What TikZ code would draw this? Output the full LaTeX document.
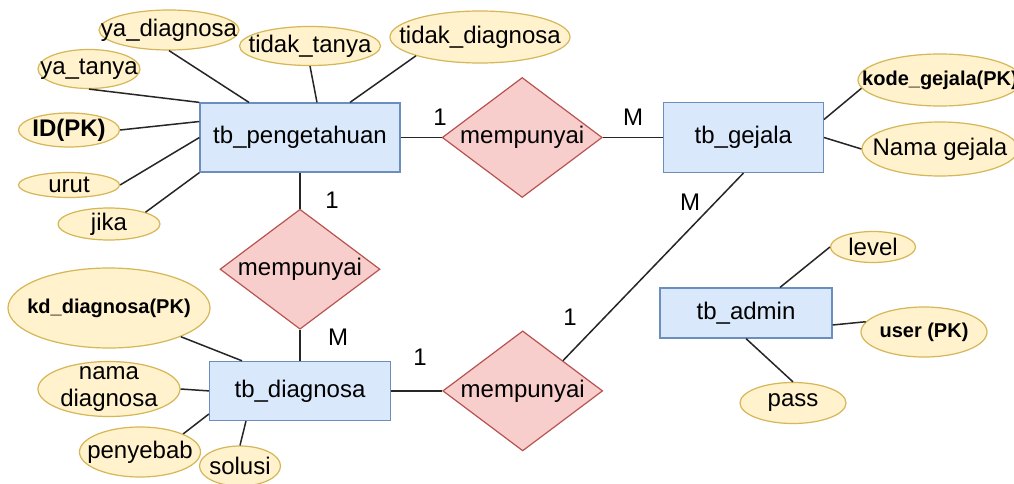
\documentclass[tikz,border=0pt]{standalone}
\usepackage{fontspec}
\setmainfont{Liberation Sans}
\usepackage{tikz}
\usetikzlibrary{positioning,shapes.geometric}
\definecolor{entfill}{HTML}{DAE8FC}
\definecolor{entline}{HTML}{6C8EBF}
\definecolor{attrfill}{HTML}{FFF2CC}
\definecolor{attrline}{HTML}{D6B656}
\definecolor{relfill}{HTML}{F8CECC}
\definecolor{relline}{HTML}{B85450}
\newcommand{\txt}{\fontsize{24}{27}\selectfont}
\newcommand{\pksmall}{\fontsize{20}{23}\selectfont\bfseries}
\tikzset{
  ent/.style={draw=entline,fill=entfill,line width=1.2pt,minimum height=59pt,inner sep=0pt,font=\txt},
  rel/.style={diamond,draw=relline,fill=relfill,line width=1.2pt,minimum width=160pt,minimum height=120pt,inner sep=0pt,label={[font=\txt]center:mempunyai}},
  attr/.style={ellipse,draw=attrline,fill=attrfill,line width=1.2pt,inner sep=0pt,label={[font=\txt,align=center,inner sep=0pt]center:{#1}}},
  conn/.style={line width=1.5pt,black!85},
  card/.style={font=\txt,inner sep=0pt},
}
\begin{document}
\begin{tikzpicture}[x=1pt,y=-1pt]
  \path[use as bounding box,fill=white] (0,0) rectangle (1014,484);
  \node[ent,minimum width=200pt,minimum height=69pt] (peng) at (300,137.5) {tb\_pengetahuan};
  \node[rel,right=41pt of peng] (rel1) {};
  \node[ent,minimum width=160pt,minimum height=70pt,right=60pt of rel1] (gej) {tb\_gejala};
  \node[rel,below=36pt of peng] (rel2) {};
  \node[ent,minimum width=181pt,below=31pt of rel2] (diag) {tb\_diagnosa};
  \node[rel,right=51pt of diag] (rel3) {};
  \node[ent,minimum width=172pt,minimum height=50pt] (adm) at (746,313) {tb\_admin};

  \node[attr={ya\_diagnosa},minimum width=140pt,minimum height=40pt] (yadiag) at (169,30) {};
  \node[attr={tidak\_tanya},minimum width=141pt,minimum height=39pt] (ttanya) at (310,46) {};
  \node[attr={tidak\_diagnosa},minimum width=180pt,minimum height=52pt] (tdiag) at (480,37) {};
  \node[attr={ya\_tanya},minimum width=102pt,minimum height=39pt] (yatanya) at (89,69) {};
  \node[attr={\textbf{ID(PK)}},minimum width=101pt,minimum height=34pt] (id) at (69,130) {};
  \node[attr={urut},minimum width=101pt,minimum height=25pt] (urut) at (69,185) {};
  \node[attr={jika},minimum width=102pt,minimum height=32pt] (jika) at (109,224) {};
  \node[attr={\pksmall kode\_gejala(PK)},minimum width=164pt,minimum height=52pt] (kode) at (940,80) {};
  \node[attr={Nama gejala},minimum width=156pt,minimum height=54pt] (namag) at (940,149) {};
  \node[attr={level},minimum width=85pt,minimum height=31pt] (level) at (873,247) {};
  \node[attr={\pksmall user (PK)},minimum width=126pt,minimum height=50pt] (user) at (924,332) {};
  \node[attr={pass},minimum width=106pt,minimum height=41pt] (pass) at (793,403) {};
  \node[attr={\pksmall kd\_diagnosa(PK)},minimum width=202pt,minimum height=80pt] (kd) at (109,308) {};
  \node[attr={nama\\diagnosa},minimum width=142pt,minimum height=55pt] (namad) at (109,389) {};
  \node[attr={penyebab},minimum width=121pt,minimum height=50pt] (peny) at (140,452) {};
  \node[attr={solusi},minimum width=81pt,minimum height=40pt] (solusi) at (240,466) {};

  \node[card] (c1) at (440,117) {1};
  \node[card] (c2) at (633,117) {M};
  \node[card] (c3) at (332,200) {1};
  \node[card] (c4) at (338,337) {M};
  \node[card] (c5) at (690,202) {M};
  \node[card] (c6) at (570,317) {1};
  \node[card] (c7) at (420,357) {1};

  \draw[conn] (yadiag.south) -- ([xshift=-51pt]peng.north);
  \draw[conn] (ttanya.south) -- ([xshift=17pt]peng.north);
  \draw[conn] (tdiag.south west) -- ([xshift=50pt]peng.north);
  \draw[conn] (yatanya.south) -- (peng.north west);
  \draw[conn] (id.east) -- ([yshift=16pt]peng.west);
  \draw[conn] (urut.east) -- (peng.west);
  \draw[conn] (jika.north east) -- (peng.south west);
  \draw[conn] (peng.east) -- (rel1.west);
  \draw[conn] (rel1.east) -- (gej.west);
  \draw[conn] ([yshift=18pt]gej.east) -- (kode.186);
  \draw[conn] (gej.east) -- (namag.west);
  \draw[conn] (peng.south) -- (rel2.north);
  \draw[conn] (rel2.south) -- (diag.north);
  \draw[conn] (diag.east) -- (rel3.west);
  \draw[conn] (rel3.north east) -- (gej.south);
  \draw[conn] ([xshift=34pt]adm.north) -- (level.west);
  \draw[conn] ([yshift=-12pt]adm.east) -- (user.170);
  \draw[conn] (adm.south) -- (pass.north);
  \draw[conn] (kd.south east) -- ([xshift=-58pt]diag.north);
  \draw[conn] (namad.east) -- (diag.west);
  \draw[conn] (peny.north east) -- ([yshift=7pt]diag.south west);
  \draw[conn] (solusi.north) -- ([xshift=-54pt]diag.south);
\end{tikzpicture}
\end{document}
